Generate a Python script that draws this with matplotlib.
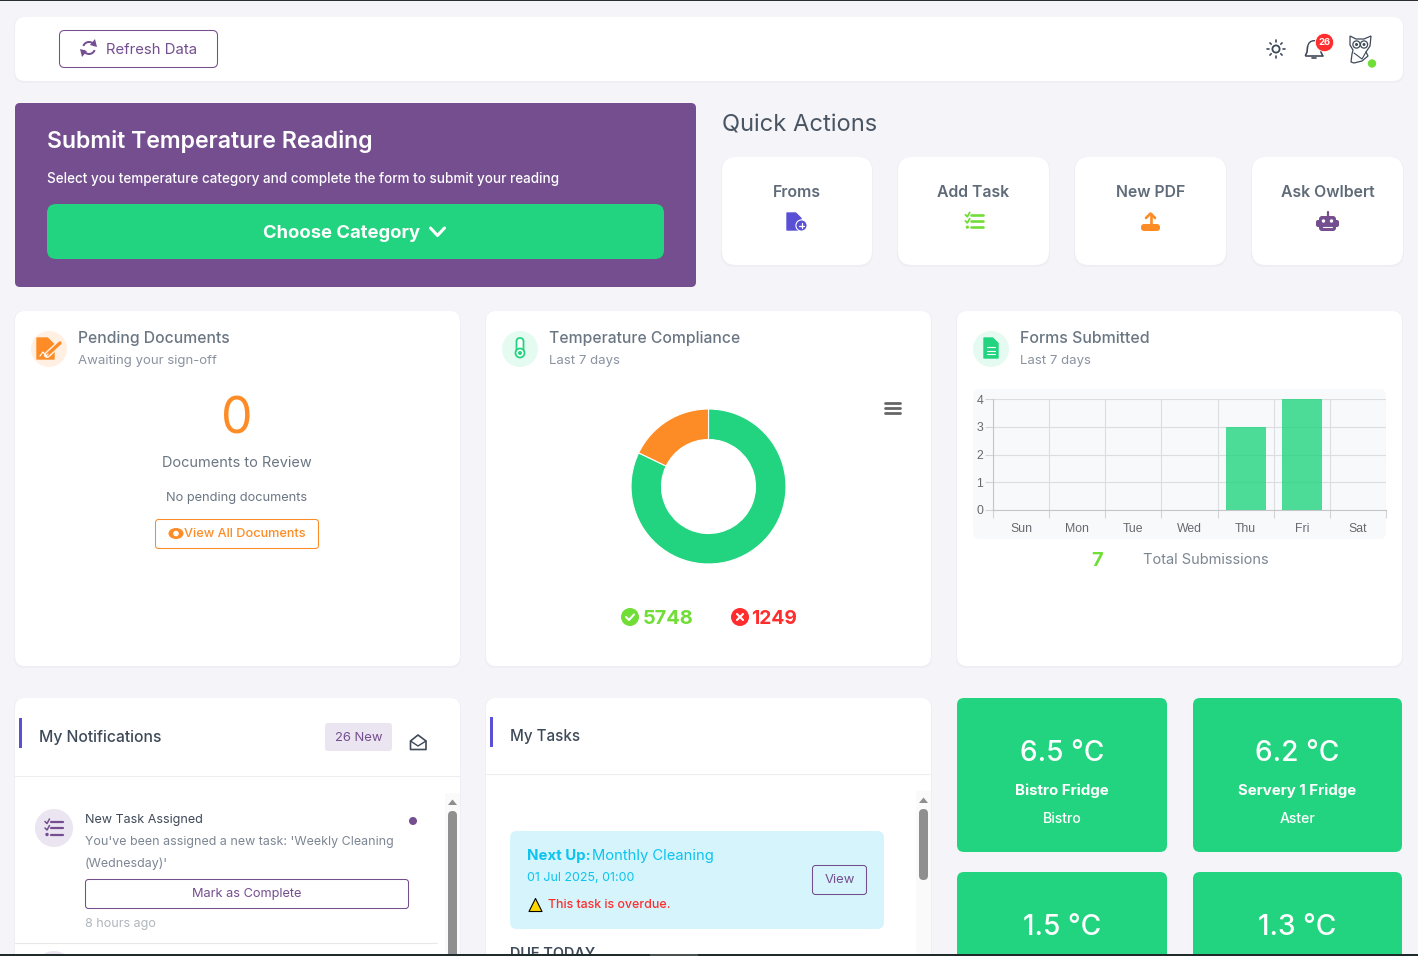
import numpy as np
import matplotlib
matplotlib.use("Agg")
import matplotlib.pyplot as plt
from matplotlib.patches import FancyBboxPatch, Circle, Ellipse, Polygon, Rectangle, Wedge

plt.rcParams['font.family'] = ['Inter', 'DejaVu Sans']

# chart data
days = ['Sun', 'Mon', 'Tue', 'Wed', 'Thu', 'Fri', 'Sat']
forms_submitted = [0, 0, 0, 0, 3, 4, 0]
compliance_values = [5748, 1249]
compliance_colors = ['#22d47f', '#fd8c26']
quick_actions = ['Froms', 'Add Task', 'New PDF', 'Ask Owlbert']
tile_temps = ['6.5 °C', '6.2 °C', '1.5 °C', '1.3 °C']
tile_names = ['Bistro Fridge', 'Servery 1 Fridge', '', '']
tile_areas = ['Bistro', 'Aster', '', '']

PURPLE = '#744e8f'
GREEN = '#22d47f'
ORANGE = '#fd8c26'
LIME = '#71dd37'
RED = '#ff2d2d'
INDIGO = '#5a50d6'
DARK = '#3f4a59'
GREY = '#6b7683'
CYAN = '#0cc4ee'

fig = plt.figure(figsize=(14.18, 9.56), dpi=100, facecolor='#f4f4f9')
ax = fig.add_axes([0, 0, 1, 1])
ax.set_xlim(0, 1418)
ax.set_ylim(956, 0)
ax.axis('off')


def box(x0, y0, x1, y1, r=8, fc='white', ec='none', lw=0.75, z=2):
    p = FancyBboxPatch((x0 + r, y0 + r), x1 - x0 - 2 * r, y1 - y0 - 2 * r,
                       boxstyle='round,pad=%f,rounding_size=%f' % (r, r),
                       fc=fc, ec=ec, lw=lw, zorder=z)
    ax.add_patch(p)


def card(x0, y0, x1, y1, r=10):
    # faint shadow under the white cards
    box(x0 - 1, y0, x1 + 1, y1 + 2, r, fc='#eeeef4', z=1)
    box(x0, y0, x1, y1, r)


def txt(x, y, s, size, color=DARK, weight='normal', ha='left', z=5):
    # size in css px, y nudged because matplotlib centres on the line box
    return ax.text(x, y + size * 0.13 - 1, s, fontsize=size * 0.72, color=color, weight=weight,
                   ha=ha, va='center', zorder=z)


def circle(x, y, r, fc, ec='none', lw=1, z=4):
    ax.add_patch(Circle((x, y), r, fc=fc, ec=ec, lw=lw, zorder=z))


def line(xs, ys, color, lw=1.5, z=5):
    ax.plot(xs, ys, color=color, lw=lw, solid_capstyle='round', zorder=z)


def checklist(x, y, color, s=1.0, lw=1.6):
    for i in range(3):
        yy = y + (i - 1) * 6.5 * s
        line([x - 3 * s, x + 9 * s], [yy, yy], color, lw)
        if i < 2:
            line([x - 9 * s, x - 7 * s, x - 4.5 * s], [yy, yy + 2 * s, yy - 2.5 * s], color, lw * 0.7)
        else:
            circle(x - 7 * s, yy, 1.7 * s, color, z=5)


def doc(x0, y0, x1, y1, color):
    cut = (x1 - x0) * 0.38
    ax.add_patch(Polygon([(x0, y0), (x1 - cut, y0), (x1, y0 + cut), (x1, y1), (x0, y1)],
                         fc=color, ec=color, lw=1, joinstyle='round', zorder=4))


# header bar
card(15, 17, 1403, 81)
box(59.5, 30.5, 217.5, 67.5, 5, ec=PURPLE)
txt(106, 49, 'Refresh Data', 14.9, PURPLE)
ax.add_patch(Wedge((89, 48), 7, 200, 340, width=2, fc=PURPLE, zorder=5))
ax.add_patch(Wedge((89, 48), 7, 20, 160, width=2, fc=PURPLE, zorder=5))
ax.add_patch(Polygon([(95, 39), (97, 47), (90, 45)], fc=PURPLE, zorder=5))
ax.add_patch(Polygon([(82, 57), (80, 49), (87, 51)], fc=PURPLE, zorder=5))

# sun
circle(1276, 49, 3.6, 'white', ec=DARK, lw=1.3)
for a in np.deg2rad(np.arange(0, 360, 45)):
    line([1276 + 6.8 * np.cos(a), 1276 + 8.6 * np.cos(a)],
         [49 + 6.8 * np.sin(a), 49 + 8.6 * np.sin(a)], DARK, 1.2)

# bell + badge
ax.add_patch(Wedge((1314, 47), 7, 180, 360, width=1.4, fc=DARK, zorder=4))
line([1307.5, 1307, 1305.5], [47, 52, 55.5], DARK, 1.2)
line([1320.5, 1321, 1322.5], [47, 52, 55.5], DARK, 1.2)
line([1305.5, 1322.5], [55.5, 55.5], DARK, 1.2)
line([1312, 1316], [58, 58], DARK, 1.2)
circle(1324.5, 42.5, 9.2, RED, ec='white', lw=0.6, z=6)
txt(1324.5, 42.5, '26', 9.5, 'white', 'bold', ha='center', z=7)

# owl logo
owl_body = [(1350, 36), (1356, 39), (1364, 39), (1371, 36), (1370, 46), (1366, 52), (1368, 56),
            (1362, 61), (1354, 63), (1351, 62), (1352, 54), (1353, 50), (1350, 45)]
ax.add_patch(Polygon(owl_body, fc='white', ec=DARK, lw=0.9, zorder=4))
circle(1356.5, 44.5, 3.6, 'white', ec=DARK, lw=0.9, z=5)
circle(1364, 44.5, 3.6, 'white', ec=DARK, lw=0.9, z=5)
circle(1356.5, 44.5, 1.5, DARK, z=6)
circle(1364, 44.5, 1.5, DARK, z=6)
line([1354, 1362, 1366], [53, 59, 52], DARK, 0.8)
circle(1372, 63.5, 4.2, LIME, z=6)

# submit card
box(15, 103, 696, 287, 5, fc=PURPLE)
txt(47, 139, 'Submit Temperature Reading', 23.1, 'white', 'semibold')
txt(47, 178, 'Select you temperature category and complete the form to submit your reading', 13.5, 'white', 'medium')
box(47, 204, 664, 259, 9, fc=GREEN, z=3)
txt(342, 232, 'Choose Category', 18.4, 'white', 'bold', ha='center')
line([430.5, 437.5, 444.5], [228, 235.5, 228], 'white', 2.2)

# quick actions
txt(722, 123, 'Quick Actions', 23.7, '#4a5563')
qa_left = [722, 898, 1075, 1252]
qa_right = [872, 1049, 1226, 1403]
for x0, x1, name in zip(qa_left, qa_right, quick_actions):
    card(x0, 157, x1, 265, 14)
    txt((x0 + x1) / 2, 191, name, 15.8, '#5f6b78', 'semibold', ha='center')

doc(787, 213, 801, 230, INDIGO)
circle(801.5, 225.5, 5.6, INDIGO, ec='white', lw=0.8, z=5)
line([799, 804], [225.5, 225.5], 'white', 0.9, z=6)
line([801.5, 801.5], [223, 228], 'white', 0.9, z=6)
checklist(974, 221, LIME, 0.95, 1.9)
box(1141, 224, 1160, 231, 3, fc=ORANGE, z=4)
line([1150.5, 1150.5], [214, 226], ORANGE, 1.9)
line([1146, 1150.5, 1155], [218, 213.5, 218], ORANGE, 1.9)
box(1319, 216, 1336, 231, 3, fc=PURPLE, z=4)
box(1316, 220, 1339, 227, 2, fc=PURPLE, z=3)
line([1327.5, 1327.5], [212, 216], PURPLE, 1.6)
circle(1323.5, 221, 1.7, 'white', z=5)
circle(1331.5, 221, 1.7, 'white', z=5)
line([1323, 1332], [227, 227], 'white', 0.8)

# second row cards
row2_left = [15, 486, 957]
for x0 in row2_left:
    card(x0, 311, x0 + 445, 666)

# pending documents
circle(49, 349, 18, '#fff0e3')
doc(37, 338, 54, 359, ORANGE)
line([47, 60], [355, 343], '#fff0e3', 4.5)
line([47.5, 60], [354.5, 343], ORANGE, 2.4)
line([40, 43, 46, 48], [356, 352, 356, 354], 'white', 0.8)
txt(78, 337.5, 'Pending Documents', 15.7, GREY, 'medium')
txt(78, 360.5, 'Awaiting your sign-off', 13.2, '#8a93a0')
txt(237, 414, '0', 50, ORANGE, ha='center')
txt(237, 462, 'Documents to Review', 14.5, GREY, ha='center')
txt(237, 497.5, 'No pending documents', 12.8, GREY, ha='center')
box(155.5, 519.5, 318.5, 548.5, 3, ec=ORANGE)
txt(184, 533.5, 'View All Documents', 12.7, ORANGE, 'medium')
ax.add_patch(Ellipse((176, 533.5), 15, 11, fc=ORANGE, zorder=4))
circle(176, 533.5, 2.8, 'white', z=5)

# temperature compliance
circle(520, 349, 18, '#e5faf0')
box(516.5, 338, 523.5, 354, 3.5, ec=GREEN, lw=1.3, z=4)
circle(520, 353, 4.5, 'white', ec=GREEN, lw=1.3, z=5)
circle(520, 353, 2, GREEN, z=6)
txt(549, 337.5, 'Temperature Compliance', 15.7, GREY, 'medium')
txt(549, 360.5, 'Last 7 days', 13.2, '#8a93a0')
for yy in [403, 408, 413]:
    line([885, 899.5], [yy, yy], '#666666', 2.0)

pie_ax = fig.add_axes([(708.5 - 88) / 1418, 1 - (486.5 + 88) / 956, 176 / 1418, 176 / 956])
pie_ax.pie(compliance_values, colors=compliance_colors, startangle=90, counterclock=False,
           radius=77.5 / 88, wedgeprops=dict(width=30.5 / 88, edgecolor='white', linewidth=0.8))
pie_ax.set_xlim(-1, 1)
pie_ax.set_ylim(-1, 1)
pie_ax.set_zorder(3)

circle(630, 617, 9, LIME)
line([626, 629, 634], [617, 620, 614.5], 'white', 1.5)
txt(642.5, 617.5, str(compliance_values[0]), 20, LIME, 'bold')
circle(740, 617, 9, RED)
line([737, 743], [614, 620], 'white', 1.5)
line([743, 737], [614, 620], 'white', 1.5)
txt(751.5, 617.5, str(compliance_values[1]), 19.3, RED, 'bold')

# forms submitted
circle(991, 349, 18, '#e5faf0')
doc(984, 338, 998, 358, GREEN)
for yy in [347, 350.5, 354]:
    line([987, 995], [yy, yy], 'white', 0.8)
txt(1020.5, 337.5, 'Forms Submitted', 15.9, GREY, 'medium')
txt(1020.5, 360.5, 'Last 7 days', 13.2, '#8a93a0')
box(973, 389, 1386, 539, 7, fc='#f8f9fb')

bar_ax = fig.add_axes([993 / 1418, 1 - 510 / 956, (1386 - 993) / 1418, (510 - 399) / 956])
bar_ax.set_facecolor('none')
bar_ax.bar(range(7), forms_submitted, width=0.715, color=GREEN, alpha=0.8, zorder=3)
bar_ax.set_xlim(-0.5, 6.5)
bar_ax.set_ylim(0, 4)
bar_ax.set_yticks(range(5))
bar_ax.set_xticks(np.arange(-0.5, 7, 1))
bar_ax.set_xticklabels([])
bar_ax.set_xticks(range(7), days, minor=True)
bar_ax.grid(True, which='major', color='#dcdde0', lw=0.8, zorder=0)
bar_ax.tick_params(axis='x', which='major', length=5.8, color='#d4d4d6', width=0.8)
bar_ax.tick_params(axis='x', which='minor', length=0, pad=9.3, labelsize=8.8, labelcolor='#666a70')
bar_ax.tick_params(axis='y', length=5.5, color='#d4d4d6', width=0.8, pad=1.5, labelsize=8.8, labelcolor='#666a70')
bar_ax.set_axisbelow(True)
for side in ['top', 'right']:
    bar_ax.spines[side].set_visible(False)
for side in ['left', 'bottom']:
    bar_ax.spines[side].set_color('#c4c5c8')
    bar_ax.spines[side].set_linewidth(0.8)
for lab in bar_ax.get_xticklabels(minor=True) + bar_ax.get_yticklabels():
    lab.set_fontfamily(['Liberation Sans', 'DejaVu Sans'])

txt(1097, 559.5, str(sum(forms_submitted)), 20, LIME, 'bold', ha='center')
txt(1143, 559, 'Total Submissions', 14.6, '#7c8693')

# my notifications
card(15, 698, 460, 970)
ax.add_patch(Rectangle((19, 718), 3, 30, fc=INDIGO, zorder=4))
txt(39, 736.5, 'My Notifications', 15.7, DARK, 'medium')
box(325, 723, 392, 751, 3, fc='#eae5f0')
txt(358.5, 737.5, '26 New', 13, PURPLE, ha='center')
ax.add_patch(Polygon([(410.5, 741), (418, 735), (426, 741), (426, 749.5), (410.5, 749.5)],
                     fc='white', ec=DARK, lw=1.2, joinstyle='round', zorder=4))
line([410.5, 418, 426], [741, 746, 741], DARK, 1.0)
line([15, 460], [776.3, 776.3], '#eeeef1', 0.8)

circle(54, 828, 19, '#eae5f0')
checklist(54, 828, PURPLE, 1.0, 1.6)
txt(85, 819.5, 'New Task Assigned', 12.6, DARK)
txt(85, 841.5, "You've been assigned a new task: 'Weekly Cleaning", 12.45, '#7c8693')
txt(85, 863.5, "(Wednesday)'", 12.45, '#7c8693')
circle(413, 821, 4, PURPLE)
box(85.5, 879.5, 408.5, 908.5, 3, ec=PURPLE)
txt(247, 893.5, 'Mark as Complete', 12.8, PURPLE, ha='center')
txt(85, 923.5, '8 hours ago', 12.6, '#b1b6be')
line([15, 437], [942.5, 942.5], '#e8e8ec', 0.8)
circle(54, 970, 19, '#eae5f0')

ax.add_patch(Rectangle((445, 793), 15, 170, fc='#fafafa', zorder=3))
ax.add_patch(Polygon([(448, 805), (457, 805), (452.5, 799.5)], fc='#8f8f8f', zorder=4))
box(448, 811, 457, 965, 4.5, fc='#8f8f8f', z=4)

# my tasks
card(486, 698, 931, 970)
ax.add_patch(Rectangle((490, 717), 3, 30, fc=INDIGO, zorder=4))
txt(510, 735.5, 'My Tasks', 15.2, DARK, 'medium')
line([486, 931], [774.3, 774.3], '#eeeef1', 0.8)
box(510, 831, 884, 929, 7, fc='#d5f4fc')
txt(527, 855, 'Next Up:', 15, CYAN, 'bold')
txt(592.5, 855, 'Monthly Cleaning', 14.8, CYAN)
txt(527, 877.5, '01 Jul 2025, 01:00', 12.4, CYAN)
ax.add_patch(Polygon([(529, 911.5), (542, 911.5), (535.5, 898.5)], fc='#ffd800', ec='black', lw=0.8,
                     joinstyle='round', zorder=5))
txt(548, 904.5, 'This task is overdue.', 12.4, RED, 'medium')
box(812.5, 865.5, 866.5, 894.5, 3, fc='none', ec=PURPLE, z=4)
txt(839.5, 879.5, 'View', 13, PURPLE, ha='center')
txt(510, 953.5, 'DUE TODAY', 14.5, DARK, 'semibold')

ax.add_patch(Rectangle((916, 791), 15, 170, fc='#fafafa', zorder=3))
ax.add_patch(Polygon([(919, 803), (928, 803), (923.5, 797.5)], fc='#8f8f8f', zorder=4))
box(919, 809, 928, 880, 4.5, fc='#8f8f8f', z=4)

# temperature tiles
tile_left = [957, 1193, 957, 1193]
tile_right = [1167, 1402, 1167, 1402]
tile_top = [698, 698, 872, 872]
for x0, x1, y0, temp, name, area in zip(tile_left, tile_right, tile_top, tile_temps, tile_names, tile_areas):
    box(x0, y0, x1, y0 + 154, 7, fc=GREEN)
    cx = (x0 + x1) / 2
    txt(cx, y0 + 53, temp, 28, 'white', 'medium', ha='center')
    if name:
        txt(cx, y0 + 92, name, 15, 'white', 'bold', ha='center')
        txt(cx, y0 + 120, area, 14, 'white', 'medium', ha='center')

# browser edge lines top and bottom
ax.add_patch(Rectangle((0, 0), 1418, 1, fc='#2a2f30', zorder=20))
ax.add_patch(Rectangle((0, 954), 1418, 3, fc='#1f2a2a', zorder=20))
ax.add_patch(Rectangle((650, 954), 48, 3, fc='#4a4f50', zorder=21))

fig.savefig('out.png', dpi=100, facecolor=fig.get_facecolor())
